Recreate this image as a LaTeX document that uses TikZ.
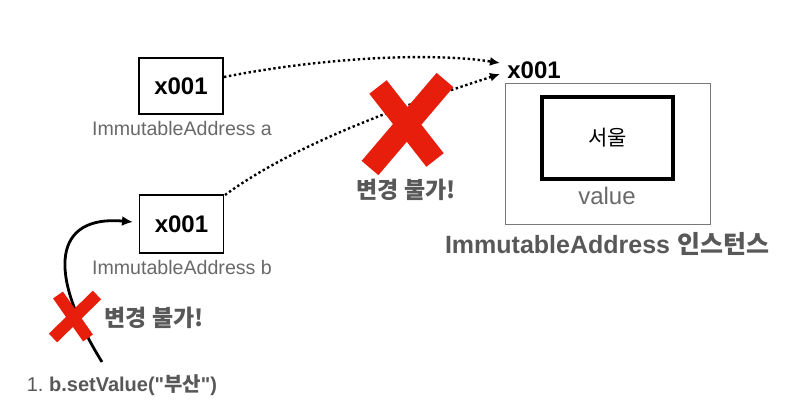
\documentclass[tikz,border=0pt]{standalone}
\usepackage{fontspec}
\setmainfont{Liberation Sans}
\newfontfamily\plainsans{Liberation Sans}
\newfontfamily\cjk{Noto Sans CJK KR}
\usetikzlibrary{arrows.meta}
\definecolor{xred}{RGB}{232,30,12}
\definecolor{lbltxt}{RGB}{105,105,105}
\definecolor{darktxt}{RGB}{88,88,88}
\definecolor{framegray}{RGB}{120,120,120}
\frenchspacing
\begin{document}
\begin{tikzpicture}[x=1pt,y=-1pt,
  addr/.style={draw=black, line width=1.3pt, minimum width=84pt, minimum height=56pt, inner sep=0pt, font=\fontsize{24}{28}\selectfont\bfseries},
  lbl/.style={text=lbltxt, inner sep=0pt, font=\fontsize{19.6}{22}\selectfont},
  warn/.style={text=darktxt, inner sep=0pt, font=\fontsize{23}{26}\selectfont\bfseries\cjk},
  refarrow/.style={line width=2.4pt, dash pattern=on 2.4pt off 2.6pt, -{Latex[length=10pt,width=9pt]}},
  cross/.style={draw=xred, line width=#1, line cap=butt},
  cross/.default=22pt]
\useasboundingbox (0,0) rectangle (797,409);
% left boxes
\node[addr] (a) at (181,86) {x001};
\node[lbl] (la) at (182,128) {ImmutableAddress a};
\node[addr, minimum height=58pt] (b) at (181.5,224) {x001};
\node[lbl] (lb) at (182,267) {ImmutableAddress b};
% instance
\node[inner sep=0pt, font=\fontsize{24}{28}\selectfont\bfseries] (xr) at (534,70) {x001};
\node[draw=framegray, line width=0.9pt, minimum width=205pt, minimum height=141pt, inner sep=0pt] (outer) at (607.5,153.5) {};
\node[draw=black, line width=4pt, minimum width=131pt, minimum height=82pt, inner sep=0pt, font=\fontsize{21}{24}\selectfont\cjk] (inner) at (607.5,138) {서울};
\node[text=lbltxt, inner sep=0pt, font=\fontsize{24}{28}\selectfont] (val) at (607,196) {value};
\node[text=darktxt, inner sep=0pt, font=\fontsize{25}{30}\selectfont\bfseries] (inst) at (607,244) {ImmutableAddress {\cjk 인스턴스}};
% dotted references
\coordinate (ta) at (500,63);
\coordinate (tb) at (500,74);
\coordinate (sa) at (224,77);
\coordinate (sb) at (225,195);
\draw[refarrow] (sa) .. controls (320,58) and (430,52) .. (ta);
\draw[refarrow] (sb) .. controls (300,140) and (420,100) .. (tb);
% call arrow
\coordinate (c0) at (102,362);
\coordinate (c1) at (133,222);
\draw[line width=2.8pt, -{Latex[length=11pt,width=10pt]}] (c0) .. controls (45,270) and (55,215) .. (c1);
% crosses
\draw[cross] (378,87) -- (435,160);
\draw[cross] (445,80) -- (370,168);
\draw[cross=12pt] (58,295) -- (88,338);
\draw[cross=12pt] (97,295) -- (53,338);
\node[warn] (w1) at (406,190) {변경 불가!};
\node[warn] (w2) at (154,318) {변경 불가!};
\node[text=darktxt, inner sep=0pt, font=\fontsize{20}{24}\selectfont\plainsans] (call) at (122,385) {1. \textbf{b.setValue("{\cjk 부산}")}};
\end{tikzpicture}
\end{document}
